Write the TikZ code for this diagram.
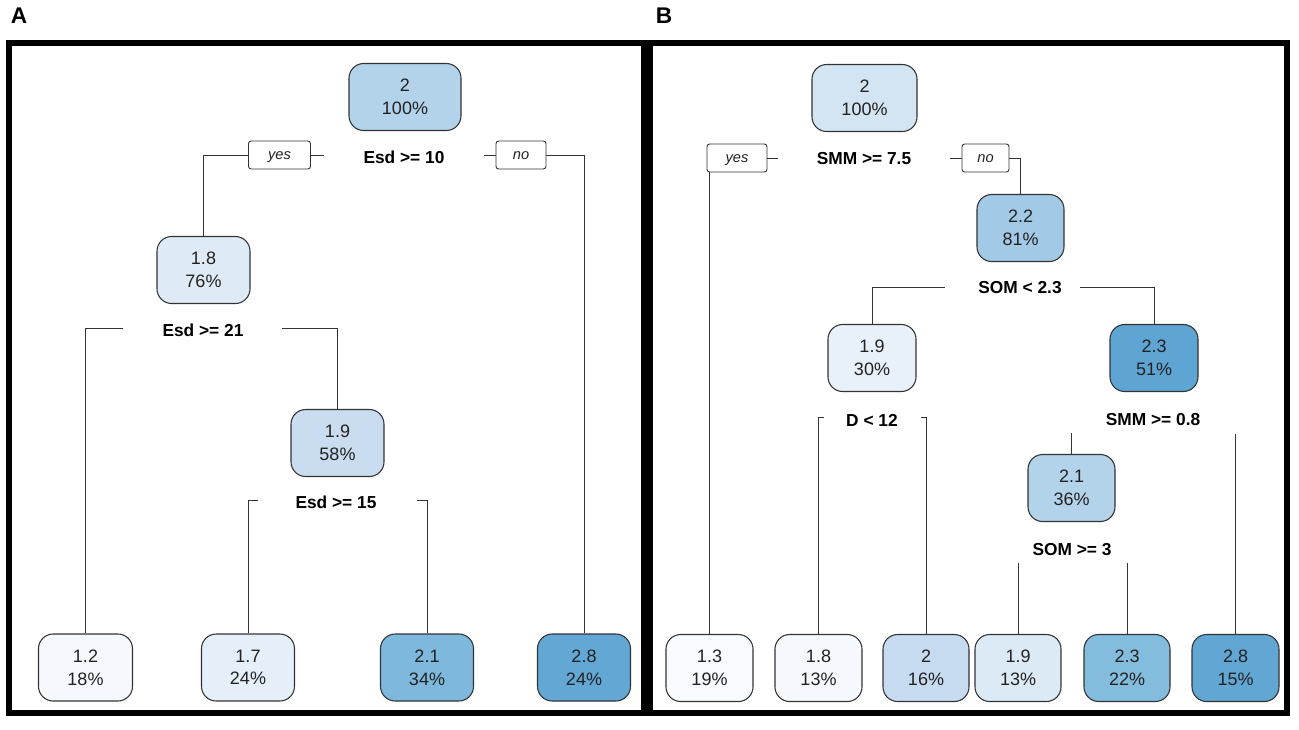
\documentclass[tikz,border=0pt]{standalone}
\usepackage{fontspec}
\setmainfont{Liberation Sans}
\def\px{0.75pt}
\definecolor{linegray}{HTML}{333333}
\definecolor{textdark}{HTML}{222222}
\definecolor{cRA}{HTML}{B3D3EA}
\definecolor{cA1}{HTML}{DEEBF7}
\definecolor{cA2}{HTML}{C9DCF0}
\definecolor{cLA1}{HTML}{F5F9FE}
\definecolor{cLA2}{HTML}{E5EFF9}
\definecolor{cLA3}{HTML}{7FB8DD}
\definecolor{cLA4}{HTML}{63A8D5}
\definecolor{cRB}{HTML}{D3E4F3}
\definecolor{cB1}{HTML}{A2C9E5}
\definecolor{cB2}{HTML}{E8F1FA}
\definecolor{cB3}{HTML}{5FA5D4}
\definecolor{cB4}{HTML}{B3D3EA}
\definecolor{cLB1}{HTML}{F7FBFF}
\definecolor{cLB2}{HTML}{F5F9FE}
\definecolor{cLB3}{HTML}{C6DBEF}
\definecolor{cLB4}{HTML}{DCEAF6}
\definecolor{cLB5}{HTML}{84BCDE}
\definecolor{cLB6}{HTML}{62A6D4}
\tikzset{
  tnode/.style 2 args={draw=linegray, line width=0.8pt, rounded corners=11pt,
    fill=#1, minimum width=#2*\px, minimum height=67*\px, align=center,
    inner sep=0pt, text=textdark, font=\fontsize{13.5}{17}\selectfont},
  splitlbl/.style={font=\bfseries\fontsize{13}{15}\selectfont, text=black, inner sep=1pt},
  ynbox/.style={draw=linegray, line width=0.7pt, rounded corners=2pt, fill=white,
    font=\itshape\fontsize{11}{13}\selectfont, text=textdark, minimum height=28*\px,
    inner sep=0pt, text height=6pt, text depth=0pt, minimum width=#1*\px},
  edge/.style={draw=linegray, line width=0.75pt},
  panel/.style={draw=black, line width=4.5pt},
  paneltag/.style={font=\bfseries\fontsize{17}{20}\selectfont, inner sep=0pt}
}
\begin{document}
\begin{tikzpicture}[x=0.75pt, y=-0.75pt]
\useasboundingbox (0,0) rectangle (1299,729);
\fill[white] (0,0) rectangle (1299,729);
% panels
\draw[panel] (9,43) rectangle (644,713);
\draw[panel] (650,43) rectangle (1287,713);
\node[paneltag] (tagA) at (19,16) {A};
\node[paneltag] (tagB) at (664,16) {B};

% ---------------- Panel A ----------------
\node[tnode={cRA}{112}] (rA) at (405,97) {2\\100\%};
\node[splitlbl] (sA0) at (404,157) {Esd >= 10};
\node[ynbox=62] (yesA) at (279.5,155) {yes};
\node[ynbox=50] (noA) at (521,155) {no};
\node[tnode={cA1}{93}] (nA1) at (203.5,270) {1.8\\76\%};
\node[splitlbl] (sA1) at (203,330) {Esd >= 21};
\node[tnode={cA2}{93}] (nA2) at (337.5,443) {1.9\\58\%};
\node[splitlbl] (sA2) at (336,502) {Esd >= 15};
\node[tnode={cLA1}{94}] (LA1) at (85.5,667.5) {1.2\\18\%};
\node[tnode={cLA2}{93}] (LA2) at (248,667.5) {1.7\\24\%};
\node[tnode={cLA3}{93}] (LA3) at (427,667.5) {2.1\\34\%};
\node[tnode={cLA4}{93}] (LA4) at (584,667.5) {2.8\\24\%};

\draw[edge] (yesA.west) -| (nA1.north);
\draw[edge] (yesA.east) -- ++(13,0);
\draw[edge] (noA.west) -- ++(-12,0);
\draw[edge] (noA.east) -| (LA4.north);
\coordinate (a1l) at (123,328);
\coordinate (a1r) at (282,328);
\draw[edge] (a1l) -| (LA1.north);
\draw[edge] (a1r) -| (nA2.north);
\coordinate (a2l) at (258,500);
\coordinate (a2r) at (417,500);
\draw[edge] (a2l) -| (LA2.north);
\draw[edge] (a2r) -| (LA3.north);

% ---------------- Panel B ----------------
\node[tnode={cRB}{105}] (rB) at (864.5,98) {2\\100\%};
\node[splitlbl] (sB0) at (864,159) {SMM >= 7.5};
\node[ynbox=60] (yesB) at (737,158) {yes};
\node[ynbox=47] (noB) at (985.5,158) {no};
\node[tnode={cB1}{87}] (nB1) at (1020.5,228) {2.2\\81\%};
\node[splitlbl] (sB1) at (1020,288) {SOM < 2.3};
\node[tnode={cB2}{88}] (nB2) at (872,358) {1.9\\30\%};
\node[tnode={cB3}{88}] (nB3) at (1154,358) {2.3\\51\%};
\node[splitlbl] (sB2) at (872,420) {D < 12};
\node[splitlbl] (sB3) at (1153,420) {SMM >= 0.8};
\node[tnode={cB4}{87}] (nB4) at (1071.5,488) {2.1\\36\%};
\node[splitlbl] (sB4) at (1072,550) {SOM >= 3};
\node[tnode={cLB1}{87}] (LB1) at (709.5,668) {1.3\\19\%};
\node[tnode={cLB2}{87}] (LB2) at (818.5,668) {1.8\\13\%};
\node[tnode={cLB3}{86}] (LB3) at (926,668) {2\\16\%};
\node[tnode={cLB4}{86}] (LB4) at (1018,668) {1.9\\13\%};
\node[tnode={cLB5}{86}] (LB5) at (1127,668) {2.3\\22\%};
\node[tnode={cLB6}{87}] (LB6) at (1235.5,668) {2.8\\15\%};

\draw[edge] (yesB.south -| LB1.north) -- (LB1.north);
\draw[edge] (yesB.east) -- ++(11,0);
\draw[edge] (noB.west) -- ++(-12,0);
\draw[edge] (noB.east) -| (nB1.north);
\coordinate (b1l) at (945,287);
\coordinate (b1r) at (1080,287);
\draw[edge] (b1l) -| (nB2.north);
\draw[edge] (b1r) -| (nB3.north);
\coordinate (b2l) at (824,417);
\coordinate (b2r) at (921,417);
\draw[edge] (b2l) -| (LB2.north);
\draw[edge] (b2r) -| (LB3.north);
\draw[edge] (nB4.north) -- ++(0,-21);
\draw[edge] (LB6.north) -- ++(0,-200);
\draw[edge] (LB4.north) -- ++(0,-71);
\draw[edge] (LB5.north) -- ++(0,-71);
\end{tikzpicture}
\end{document}
